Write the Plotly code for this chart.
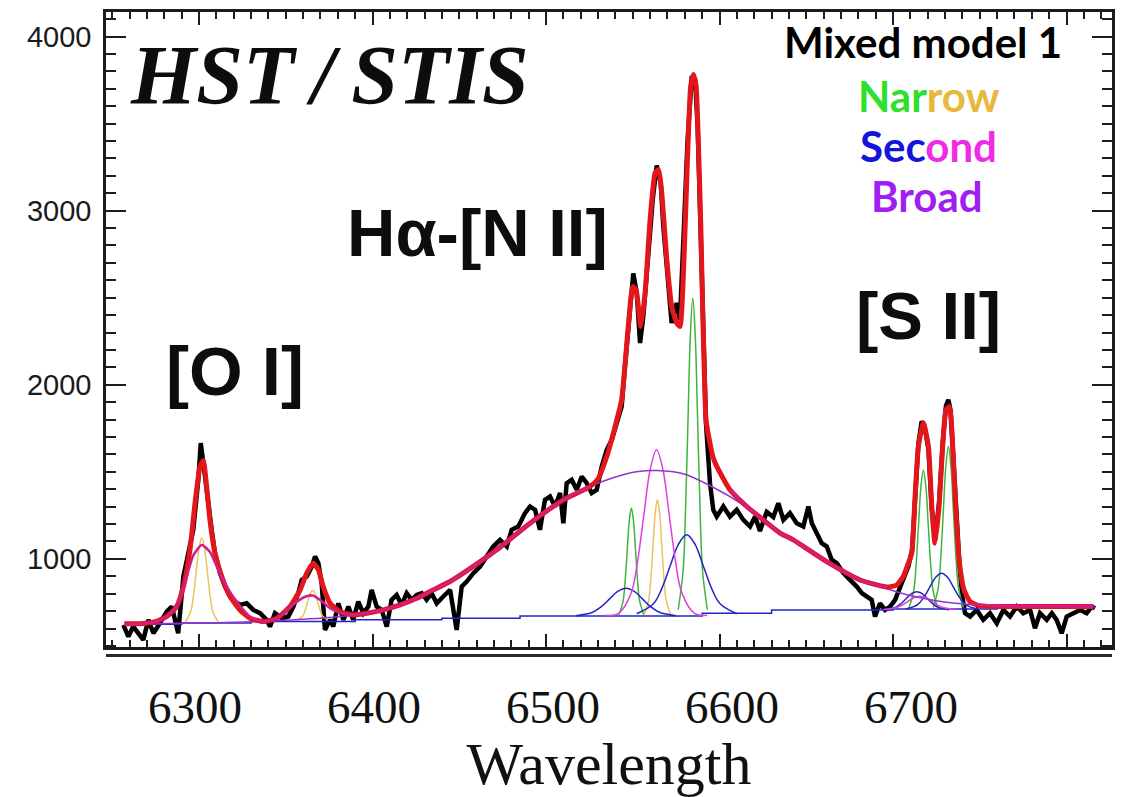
import plotly.graph_objects as go

# ---------------- values ----------------
# observed spectrum (black)
data_wl = [6256.4, 6259.3, 6262.1, 6265.0, 6267.9, 6270.8, 6273.7, 6277.5, 6281.4, 6284.3,
           6288.0, 6291.0, 6293.8, 6296.7, 6299.6, 6301.0, 6302.5, 6304.0, 6305.4, 6307.3,
           6309.2, 6312.1, 6315.0, 6317.9, 6320.7, 6323.6, 6327.5, 6331.3, 6335.2, 6339.0,
           6340.9, 6343.8, 6347.7, 6351.5, 6354.4, 6357.2, 6359.2, 6362.1, 6365.0, 6366.9,
           6368.8, 6370.7, 6372.6, 6375.5, 6377.4, 6380.3, 6383.2, 6386.1, 6388.9, 6391.8,
           6394.7, 6397.6, 6399.5, 6402.4, 6405.3, 6408.2, 6411.0, 6413.9, 6416.8, 6419.7,
           6422.6, 6425.5, 6428.4, 6431.2, 6434.1, 6437.0, 6440.8, 6444.7, 6448.5, 6451.4,
           6454.3, 6458.1, 6462.0, 6465.8, 6469.6, 6473.5, 6477.4, 6480.2, 6484.0, 6487.9,
           6490.8, 6493.7, 6496.5, 6499.4, 6502.3, 6505.2, 6508.1, 6510.0, 6511.9, 6514.8,
           6517.7, 6520.6, 6523.5, 6526.3, 6529.2, 6532.1, 6535.0, 6537.9, 6540.7, 6543.6,
           6545.5, 6548.4, 6550.3, 6552.3, 6554.2, 6556.1, 6559.0, 6561.5, 6563.8, 6566.1,
           6567.6, 6569.9, 6572.4, 6575.3, 6577.2, 6579.5, 6581.5, 6584.0, 6585.9, 6587.4,
           6588.8, 6589.7, 6591.1, 6592.2, 6594.5, 6596.4, 6598.4, 6602.2, 6606.0, 6609.9,
           6613.7, 6617.6, 6620.5, 6623.3, 6627.2, 6631.0, 6633.9, 6636.8, 6640.6, 6644.5,
           6648.3, 6651.2, 6653.2, 6656.0, 6658.9, 6661.8, 6664.7, 6667.6, 6671.4, 6675.2,
           6679.1, 6682.0, 6684.8, 6687.7, 6689.6, 6692.5, 6695.4, 6698.3, 6701.2, 6704.0,
           6706.9, 6708.8, 6711.0, 6712.7, 6714.6, 6716.5, 6718.2, 6720.4, 6722.3, 6724.2,
           6726.5, 6728.6, 6730.5, 6731.9, 6733.2, 6734.4, 6736.3, 6738.3, 6740.0, 6741.5,
           6744.4, 6748.2, 6752.0, 6755.9, 6759.8, 6763.6, 6767.4, 6771.3, 6775.1, 6779.0,
           6781.8, 6784.7, 6788.6, 6791.5, 6794.3, 6797.2, 6800.1, 6803.9, 6807.8, 6811.6,
           6814.5, 6816.4]
data_flux = [621, 554, 611, 573, 535, 650, 573, 632, 697, 726,
             573, 899, 1033, 1167, 1454, 1665, 1550, 1416, 1322, 1167,
             1034, 919, 841, 784, 755, 736, 745, 707, 688, 650,
             611, 688, 659, 669, 726, 803, 879, 899, 956, 1014,
             975, 860, 592, 650, 611, 745, 650, 726, 650, 755,
             688, 726, 822, 726, 707, 611, 765, 793, 736, 803,
             765, 793, 803, 765, 803, 745, 784, 822, 592, 841,
             870, 918, 956, 1014, 1071, 1109, 1071, 1167, 1186, 1263,
             1301, 1282, 1167, 1339, 1358, 1301, 1378, 1205, 1435, 1454,
             1397, 1473, 1435, 1378, 1397, 1531, 1627, 1684, 1780, 1875,
             2105, 2413, 2640, 2527, 2240, 2393, 2795, 3063, 3260, 3160,
             2910, 2623, 2355, 2470, 2374, 2910, 3389, 3772, 3753, 3485,
             3006, 2623, 2144, 1780, 1435, 1282, 1243, 1301, 1243, 1282,
             1224, 1186, 1243, 1160, 1270, 1240, 1320, 1224, 1263, 1205,
             1186, 1301, 1205, 1148, 1090, 1071, 994, 975, 918, 879,
             841, 803, 784, 765, 669, 745, 707, 726, 765, 841,
             918, 956, 1050, 1380, 1660, 1790, 1760, 1630, 1290, 1110,
             1320, 1660, 1880, 1914, 1850, 1640, 1250, 960, 780, 688,
             669, 707, 650, 688, 630, 707, 669, 726, 688, 707,
             602, 688, 650, 688, 650, 573, 669, 688, 707, 688,
             726, 716]

# total model (red)
fit_wl = [6257, 6266, 6275, 6281.4, 6287.1, 6291.0, 6294.8, 6297.7, 6300.6, 6302.5,
          6304.4, 6306.3, 6309.2, 6313.1, 6317.9, 6323.6, 6329.4, 6337.1, 6344.8, 6352.4,
          6358.2, 6362.1, 6365.9, 6368.8, 6371.6, 6375.5, 6381.3, 6388.9, 6396.7, 6406.2,
          6415.9, 6425.5, 6435.0, 6444.7, 6452.3, 6471.6, 6490.8, 6510.0, 6525.4, 6530.0,
          6535.0, 6539.8, 6543.6, 6547.4, 6550.0, 6551.9, 6554.6, 6557.1, 6560.0, 6562.9,
          6564.8, 6566.7, 6569.6, 6572.4, 6575.3, 6577.2, 6579.5, 6581.5, 6583.4, 6585.0,
          6586.5, 6587.8, 6589.2, 6590.3, 6591.3, 6592.2, 6594.5, 6596.4, 6598.4, 6606.0,
          6615.7, 6625.2, 6634.9, 6642.5, 6661.8, 6681.0, 6696.4, 6702.1, 6705.9, 6708.8,
          6710.8, 6712.7, 6714.6, 6717.5, 6720.4, 6722.3, 6724.2, 6726.5, 6728.6, 6730.5,
          6732.5, 6734.4, 6736.3, 6738.3, 6740.9, 6744.4, 6750.1, 6780.0, 6815.3]
fit_flux = [627, 628, 640, 669, 726, 841, 1052, 1320, 1531, 1565,
            1416, 1224, 1033, 899, 784, 707, 659, 640, 659, 726,
            820, 918, 975, 937, 841, 745, 697, 678, 688, 707,
            736, 774, 822, 870, 918, 1052, 1205, 1339, 1416, 1460,
            1588, 1760, 1914, 2335, 2565, 2546, 2335, 2527, 2949, 3217,
            3236, 3102, 2719, 2450, 2355, 2335, 2719, 3293, 3715, 3782,
            3715, 3389, 2910, 2431, 2048, 1799, 1665, 1579, 1531, 1397,
            1301, 1224, 1148, 1109, 984, 879, 838, 850, 899, 975,
            1033, 1358, 1645, 1780, 1645, 1301, 1090, 1301, 1645, 1856,
            1875, 1645, 1263, 975, 822, 755, 730, 727, 726]

# continuum + broad + [O I] second (thick magenta, visible in the wings)
wing_wl = [6257, 6266, 6275.6, 6281.4, 6287.0, 6291.0, 6296.7, 6301.6, 6306.3, 6311.1,
           6316.0, 6321.7, 6329.4, 6337.0, 6344.8, 6352.4, 6358.0, 6362.0, 6365.5, 6369.7,
           6375.5, 6381.3, 6389.0, 6396.7, 6406.2, 6415.9, 6425.5, 6435.0, 6444.7, 6452.3,
           6471.6, 6490.8, 6510.0, 6525.4, None,
           6606.0, 6615.7, 6625.2, 6634.9, 6642.5, 6661.8, 6681.0, 6696.4, None,
           6745.0, 6760.0, 6780.0, 6815.3]
wing_flux = [624, 626, 640, 669, 726, 830, 1020, 1080, 1040, 937,
             841, 755, 669, 640, 655, 722, 765, 785, 790, 765,
             717, 690, 678, 688, 707, 736, 774, 822, 870, 918,
             1052, 1205, 1339, 1416, None,
             1397, 1301, 1224, 1148, 1109, 984, 879, 836, None,
             742, 730, 727, 726]

# continuum (blue, stepped)
cont_wl = [6257, 6290, 6330, 6390, 6440, 6485, 6590, 6630, 6700, 6760, 6816]
cont_flux = [625, 632, 640, 650, 659, 672, 688, 707, 712, 720, 726]

# continuum + broad component (purple)
broad_wl = [6257, 6290, 6320, 6350, 6380, 6400, 6420, 6435, 6452, 6472,
            6491, 6510, 6525, 6540, 6552, 6564, 6579, 6596, 6612, 6625,
            6635, 6643, 6662, 6681, 6696, 6710, 6725, 6745, 6770, 6816]
broad_flux = [625, 630, 636, 648, 668, 694, 748, 815, 915, 1052,
              1205, 1339, 1414, 1470, 1500, 1508, 1489, 1413, 1321, 1224,
              1150, 1105, 984, 879, 830, 790, 760, 738, 728, 726]

# narrow components
oi6300_n_wl = [6292.0, 6295.2, 6296.8, 6298.4, 6300.0, 6301.6, 6303.2, 6304.8, 6306.4, 6308.0, 6311.2]
oi6300_n_fl = [635, 696, 789, 927, 1062, 1120, 1062, 927, 789, 696, 635]
oi6363_n_wl = [6356.8, 6359.7, 6361.15, 6362.6, 6364.05, 6365.5, 6366.95, 6368.4, 6369.85, 6371.3, 6374.2]
oi6363_n_fl = [650, 671, 704, 752, 800, 820, 800, 752, 704, 671, 650]
ha_n_wl = [6556.7, 6559.2, 6560.45, 6561.7, 6562.95, 6564.2, 6565.45, 6566.7, 6567.95, 6569.2, 6571.7]
ha_n_fl = [683, 766, 892, 1079, 1263, 1341, 1263, 1079, 892, 766, 683]
nii6548_n_wl = [6542.0, 6544.4, 6545.6, 6546.8, 6548.0, 6549.2, 6550.4, 6551.6, 6552.8, 6554.0, 6556.4]
nii6548_n_fl = [679, 756, 873, 1048, 1219, 1292, 1219, 1048, 873, 756, 679]
nii6583_n_wl = [6576.2, 6579.0, 6580.4, 6581.8, 6583.2, 6584.6, 6586.0, 6587.4, 6588.8, 6590.2, 6593.0]
nii6583_n_fl = [708, 933, 1276, 1786, 2285, 2498, 2285, 1786, 1276, 933, 708]
sii6716_n_wl = [6709.1, 6711.9, 6713.3, 6714.7, 6716.1, 6717.5, 6718.9, 6720.3, 6721.7, 6723.1, 6725.9]
sii6716_n_fl = [716, 816, 968, 1195, 1417, 1511, 1417, 1195, 968, 816, 716]
sii6731_n_wl = [6723.2, 6726.1, 6727.55, 6729.0, 6730.45, 6731.9, 6733.35, 6734.8, 6736.25, 6737.7, 6740.6]
sii6731_n_fl = [720, 837, 1014, 1277, 1535, 1645, 1535, 1277, 1014, 837, 720]

# second components
ha_s_wl = [6534.5, 6541.8, 6549.1, 6552.75, 6556.4, 6560.05, 6563.7, 6567.35, 6571.0, 6574.65, 6578.3, 6585.6, 6592.9]
ha_s_fl = [676, 687, 805, 985, 1253, 1515, 1627, 1515, 1253, 985, 805, 687, 676]
nii6548_s_wl = [6517.3, 6526.9, 6531.7, 6536.5, 6541.3, 6546.1, 6550.9, 6555.7, 6560.5, 6565.3, 6574.9]
nii6548_s_fl = [674, 694, 724, 769, 813, 832, 813, 769, 724, 694, 674]
nii6583_s_wl = [6552.3, 6561.9, 6566.7, 6571.5, 6576.3, 6581.1, 6585.9, 6590.7, 6595.5, 6600.3, 6609.9]
nii6583_s_fl = [685, 742, 829, 958, 1084, 1138, 1084, 958, 829, 742, 685]
sii6716_s_wl = [6695.1, 6701.3, 6704.4, 6707.5, 6710.6, 6713.7, 6716.8, 6719.9, 6723.0, 6726.1, 6732.3]
sii6716_s_fl = [708, 721, 741, 771, 800, 812, 800, 771, 741, 721, 708]
sii6731_s_wl = [6707.3, 6714.2, 6717.65, 6721.1, 6724.55, 6728.0, 6731.45, 6734.9, 6738.35, 6741.8, 6748.7]
sii6731_s_fl = [712, 738, 778, 836, 894, 918, 894, 836, 778, 738, 712]
sii_m_wl = [6694.5, 6701.5, 6705.0, 6708.5, 6712.0, 6715.5, 6719.0, 6722.5, 6726.0, 6729.5, 6736.5]
sii_m_fl = [709, 719, 733, 755, 777, 786, 777, 755, 733, 719, 709]

# axis tick labels
ytick_vals = [1000, 2000, 3000, 4000]
xlabel_vals = [6300, 6400, 6500, 6600, 6700]

assert len(data_wl) == len(data_flux)
assert len(fit_wl) == len(fit_flux)
assert len(wing_wl) == len(wing_flux)

# ---------------- styles ----------------
BLACK = "#000000"
RED = "#e3161c"
WING = "#d01f8c"
PURPLE = "#9433cc"
BLUE = "#2424c4"
GREEN = "#3db53d"
GOLD = "#e9c35c"
MAGENTA = "#e03fe0"

fig = go.Figure()


def line(x, y, color, width, shape="spline", smoothing=1.0):
    fig.add_trace(go.Scatter(x=x, y=y, mode="lines", hoverinfo="skip",
                             line=dict(color=color, width=width, shape=shape,
                                       smoothing=smoothing if shape == "spline" else None),
                             connectgaps=False))


line(data_wl, data_flux, BLACK, 4.5, shape="linear")
line(cont_wl, cont_flux, BLUE, 1.5, shape="hv")
for wl, fl in [(oi6300_n_wl, oi6300_n_fl), (oi6363_n_wl, oi6363_n_fl), (ha_n_wl, ha_n_fl)]:
    line(wl, fl, GOLD, 1.5)
for wl, fl in [(nii6548_n_wl, nii6548_n_fl), (nii6583_n_wl, nii6583_n_fl),
               (sii6716_n_wl, sii6716_n_fl), (sii6731_n_wl, sii6731_n_fl)]:
    line(wl, fl, GREEN, 1.5)
for wl, fl in [(nii6548_s_wl, nii6548_s_fl), (nii6583_s_wl, nii6583_s_fl),
               (sii6716_s_wl, sii6716_s_fl), (sii6731_s_wl, sii6731_s_fl)]:
    line(wl, fl, BLUE, 1.5)
for wl, fl in [(ha_s_wl, ha_s_fl), (sii_m_wl, sii_m_fl)]:
    line(wl, fl, MAGENTA, 1.5)
line(broad_wl, broad_flux, PURPLE, 1.5)
line(fit_wl, fit_flux, RED, 5, smoothing=0.5)
line(wing_wl, wing_flux, WING, 2.6, smoothing=0.6)

# empty trace that switches on the lower (labelled) wavelength axis
fig.add_trace(go.Scatter(x=xlabel_vals, y=[None] * len(xlabel_vals), xaxis="x2", yaxis="y",
                         mode="lines", hoverinfo="skip", showlegend=False))

# ---------------- layout ----------------
W, H = 1125, 797
ML, MR, MT, MB = 106, 13, 12, 100
PW, PH = W - ML - MR, H - MT - MB


def xp(px):
    return (px - ML) / PW


def yp(py):
    return (H - MB - py) / PH


FRAME = "#1c1c1c"
frame = dict(showline=True, linecolor=FRAME, linewidth=2.5, mirror="ticks",
             showgrid=False, zeroline=False, ticks="inside", tickcolor=FRAME,
             tickwidth=2, automargin=False)

fig.update_layout(
    width=W, height=H,
    margin=dict(l=ML, r=MR, t=MT, b=MB, pad=0),
    paper_bgcolor="white", plot_bgcolor="white", showlegend=False,
    xaxis=dict(**frame, range=[6246.4, 6826.2], domain=[0, 1], anchor="y",
               tickmode="linear", tick0=6300, dtick=100, ticklen=13,
               showticklabels=False,
               minor=dict(ticks="inside", ticklen=7, tickmode="linear", tick0=6300,
                          dtick=10, tickwidth=1.5, tickcolor=FRAME)),
    yaxis=dict(**frame, range=[494, 4141], domain=[yp(647), 1], anchor="x",
               tickmode="array", tickvals=ytick_vals, ticklen=20,
               tickfont=dict(family="Liberation Sans", size=29, color="#1a1a1a"),
               ticklabelstandoff=6,
               minor=dict(ticks="inside", ticklen=10, tickmode="linear", tick0=0,
                          dtick=100, tickwidth=1.5, tickcolor=FRAME)),
    xaxis2=dict(overlaying="x", anchor="free", position=yp(655), side="bottom",
                range=[6250.3, 6812.3], tickmode="array", tickvals=xlabel_vals,
                ticks="", showline=True, linecolor="#2a2a2a", linewidth=3,
                showgrid=False, zeroline=False, automargin=False,
                tickfont=dict(family="Liberation Serif", size=47, color="#111111"),
                ticklabelstandoff=10,
                title=dict(text="Wavelength", standoff=22,
                           font=dict(family="Liberation Serif", size=60, color="#111111"))),
)

anns = [
    dict(text="<b><i>HST\u2009/\u2009STIS</i></b>", x=xp(128), y=yp(75), xanchor="left",
         font=dict(family="Liberation Serif", size=84, color="#0d0d0d")),
    dict(text="<b>H\u03b1-[N II]</b>", x=xp(477), y=yp(232),
         font=dict(family="Liberation Sans", size=67, color="#0d0d0d")),
    dict(text="<b>[O I]</b>", x=xp(235), y=yp(371),
         font=dict(family="Liberation Sans", size=69, color="#0d0d0d")),
    dict(text="<b>[S II]</b>", x=xp(928), y=yp(315),
         font=dict(family="Liberation Sans", size=67, color="#0d0d0d")),
    dict(text="<b>Mixed model 1</b>", x=xp(923), y=yp(42),
         font=dict(family="Lato", size=42, color="#000000")),
    dict(text="<b><span style='color:#2ee02e'>Nar</span><span style='color:#e6b83c'>row</span></b>",
         x=xp(929), y=yp(96), font=dict(family="Lato", size=42)),
    dict(text="<b><span style='color:#1414dc'>Sec</span><span style='color:#f02ae6'>ond</span></b>",
         x=xp(928), y=yp(146), font=dict(family="Lato", size=42)),
    dict(text="<b><span style='color:#a01ef0'>Broad</span></b>",
         x=xp(927), y=yp(196), font=dict(family="Lato", size=42)),
]
for a in anns:
    a.update(xref="paper", yref="paper", showarrow=False)
    a.setdefault("xanchor", "center")
    a.setdefault("yanchor", "middle")
fig.update_layout(annotations=anns)

fig.write_html("out.html", config={"displayModeBar": False},
               post_script="document.body.style.margin='0';")
